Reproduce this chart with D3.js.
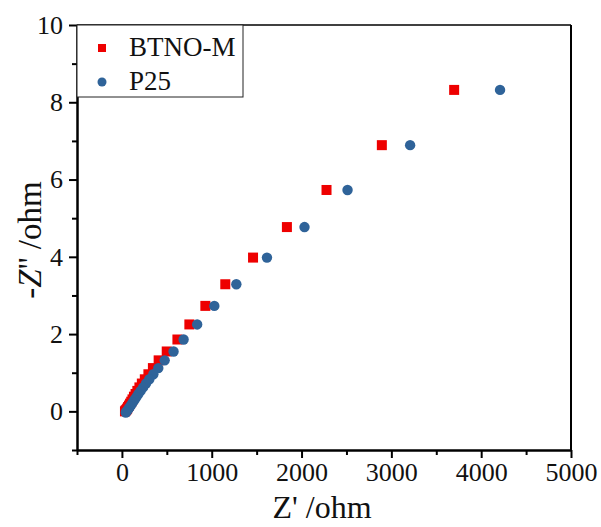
<!DOCTYPE html>
<html>
<head>
<meta charset="utf-8">
<script src="https://cdn.jsdelivr.net/npm/d3@7"></script>
<style>
  body { margin: 0; background: #fff; }
  text { font-family: "Liberation Serif", "Times New Roman", serif; fill: #111; }
</style>
</head>
<body>
<div id="chart"></div>
<script>
// series values (Z' in ohm, -Z'' in ohm)
var btnoX = [3699, 2894, 2278, 1837, 1460, 1151, 929, 751, 618, 499, 409, 345, 295, 255, 222, 195, 172, 152, 134, 118, 104, 91, 79, 68, 58, 49, 41, 34];
var btnoY = [8.32, 6.89, 5.73, 4.77, 3.98, 3.29, 2.73, 2.25, 1.86, 1.55, 1.32, 1.12, 0.96, 0.83, 0.72, 0.62, 0.53, 0.45, 0.38, 0.31, 0.25, 0.20, 0.15, 0.11, 0.07, 0.04, 0.02, 0.0];
var p25X = [4210, 3209, 2512, 2033, 1615, 1274, 1029, 838, 687, 575, 476, 405, 350, 305, 268, 236, 208, 183, 161, 141, 123, 107, 93, 80, 69, 59, 50, 43];
var p25Y = [8.32, 6.89, 5.73, 4.77, 3.98, 3.29, 2.73, 2.25, 1.86, 1.55, 1.32, 1.12, 0.96, 0.83, 0.72, 0.62, 0.53, 0.45, 0.37, 0.30, 0.24, 0.18, 0.13, 0.09, 0.05, 0.02, -0.01, -0.03];
var seriesNames = ["BTNO-M", "P25"];
var xTicks = [0, 1000, 2000, 3000, 4000, 5000];
var yTicks = [0, 2, 4, 6, 8, 10];

var svgWidth = 601;
var svgHeight = 527;
var margin = { top: 25, right: 30, bottom: 77, left: 77 };
var chartWidth = svgWidth - margin.left - margin.right;
var chartHeight = svgHeight - margin.top - margin.bottom;

var svg = d3.select("#chart")
    .append("svg")
    .attr("width", svgWidth)
    .attr("height", svgHeight);
var chartGroup = svg.append("g")
    .attr("transform", `translate(${margin.left}, ${margin.top})`);

var xScale = d3.scaleLinear().domain([-500, 5000]).range([0, chartWidth]);
var yScale = d3.scaleLinear().domain([-1, 10]).range([chartHeight, 0]);

// minor ticks first
var xMinor = d3.range(-500, 5001, 500).filter(v => xTicks.indexOf(v) < 0);
var yMinor = d3.range(-1, 10, 2);
chartGroup.append("g")
    .attr("transform", `translate(0, ${chartHeight})`)
    .call(d3.axisBottom(xScale).tickValues(xMinor).tickSize(5).tickFormat(""))
    .call(g => g.select(".domain").remove())
    .selectAll("line").attr("stroke-width", 2);
chartGroup.append("g")
    .call(d3.axisLeft(yScale).tickValues(yMinor).tickSize(5).tickFormat(""))
    .call(g => g.select(".domain").remove())
    .selectAll("line").attr("stroke-width", 2);

// major axes
var bottomAxis = d3.axisBottom(xScale).tickValues(xTicks).tickFormat(d3.format("d"))
    .tickSize(8).tickSizeOuter(0).tickPadding(5);
var leftAxis = d3.axisLeft(yScale).tickValues(yTicks).tickFormat(d3.format("d"))
    .tickSize(8).tickSizeOuter(0).tickPadding(6);

var xg = chartGroup.append("g")
    .attr("transform", `translate(0, ${chartHeight})`)
    .call(bottomAxis);
var yg = chartGroup.append("g").call(leftAxis);
[xg, yg].forEach(g => {
    g.attr("font-size", null).attr("font-family", null);
    g.select(".domain").attr("stroke-width", 2.5);
    g.selectAll(".tick line").attr("stroke-width", 2);
    g.selectAll(".tick text").style("font-size", "26px").attr("fill", "#111");
});

// top and right frame
chartGroup.append("line").attr("x1", 0).attr("x2", chartWidth).attr("y1", 0).attr("y2", 0)
    .attr("stroke", "#000").attr("stroke-width", 1.5);
chartGroup.append("line").attr("x1", chartWidth).attr("x2", chartWidth).attr("y1", 0).attr("y2", chartHeight)
    .attr("stroke", "#000").attr("stroke-width", 2);

// data
var btno = btnoX.map((x, i) => ({ x: x, y: btnoY[i] }));
var p25 = p25X.map((x, i) => ({ x: x, y: p25Y[i] }));
var sq = 10;

chartGroup.selectAll(".btno").data(btno).enter()
    .append("rect")
    .attr("class", "btno")
    .attr("x", d => xScale(d.x) - sq / 2)
    .attr("y", d => yScale(d.y) - sq / 2)
    .attr("width", sq)
    .attr("height", sq)
    .attr("fill", "#ee0000");

chartGroup.selectAll(".p25").data(p25).enter()
    .append("circle")
    .attr("class", "p25")
    .attr("cx", d => xScale(d.x))
    .attr("cy", d => yScale(d.y))
    .attr("r", 5.2)
    .attr("fill", "#2f6399");

// legend
var legend = chartGroup.append("g");
legend.append("rect")
    .attr("x", 0).attr("y", 0)
    .attr("width", 166).attr("height", 72)
    .attr("fill", "#fff").attr("stroke", "#222").attr("stroke-width", 1);
legend.append("rect")
    .attr("x", 21).attr("y", 19).attr("width", 8).attr("height", 8)
    .attr("fill", "#ee0000");
legend.append("circle")
    .attr("cx", 25).attr("cy", 57).attr("r", 4.5)
    .attr("fill", "#2f6399");
legend.selectAll(".ltext").data(seriesNames).enter()
    .append("text")
    .attr("class", "ltext")
    .attr("x", 52)
    .attr("y", (d, i) => 31 + i * 34)
    .style("font-size", "27px")
    .text(d => d);

// axis titles
chartGroup.append("text")
    .attr("transform", `translate(245, ${chartHeight + 68})`)
    .attr("text-anchor", "middle")
    .style("font-size", "32px")
    .text("Z' /ohm");

var yTitle = chartGroup.append("text")
    .attr("transform", `translate(-36, 215) rotate(-90)`)
    .attr("text-anchor", "middle")
    .style("font-size", "33px");
yTitle.append("tspan").text("-");
yTitle.append("tspan").style("font-style", "italic").text("Z");
yTitle.append("tspan").text("'' /ohm");
</script>
</body>
</html>
